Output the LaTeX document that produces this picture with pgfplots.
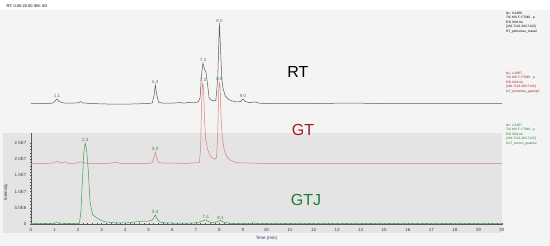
\documentclass[border=0pt]{standalone}
\usepackage{fontspec}
\setmainfont{Liberation Sans}
\usepackage{pgfplots}
\pgfplotsset{compat=1.18}
\definecolor{bgout}{HTML}{F4F4F4}
\definecolor{bgbox}{HTML}{E4E4E4}
\definecolor{rtline}{HTML}{5A5A5A}
\definecolor{gtline}{HTML}{E07B7B}
\definecolor{gtjline}{HTML}{3E9E50}
\definecolor{gtdark}{HTML}{A5171C}
\definecolor{gtjdark}{HTML}{1E7A34}
\definecolor{pklab}{HTML}{2E8B45}
\definecolor{ticklab}{HTML}{3A3A6A}
\begin{document}
\begin{tikzpicture}[x=1pt,y=1pt]
\useasboundingbox (0,0) rectangle (550,246);
\fill[bgout] (0,0) rectangle (550,246);
\fill[white] (0,236) rectangle (550,246);
\fill[bgbox] (3,13) rectangle (502,113);
\node[anchor=west, font=\fontsize{4}{5}\selectfont] at (3,240) {RT: 0.00-20.00 SM: 5G};

\begin{axis}[
  at={(31pt,22pt)}, anchor=origin,
  scale only axis, width=471pt, height=91pt,
  xmin=0, xmax=20, ymin=0, ymax=2.81,
  clip=false,
  axis x line=bottom, axis y line=left,
  axis line style={-, draw=gray!70!black, line width=0.4pt},
  xtick={0,...,20},
  ytick={0,0.5,...,2.5},
  yticklabels={0,5.0E6,1.0E7,1.5E7,2.0E7,2.5E7},
  minor x tick num=4, minor y tick num=4,
  tick style={draw=gray!70!black, line width=0.3pt},
  major tick length=2pt, minor tick length=1pt,
  tick label style={font=\fontsize{4.5}{5}\selectfont, text=ticklab},
  /pgf/number format/assume math mode=true,
  xlabel={Time (min)}, ylabel={Intensity},
  label style={font=\fontsize{4.5}{5}\selectfont, text=ticklab},
  xlabel style={at={(axis description cs:0.5,0)}, anchor=north, yshift=-9pt},
  ylabel style={at={(axis description cs:-0.053,0.35)}, anchor=center},
]
% RT (offset trace)
\addplot[rtline, line width=0.5pt] coordinates {
(0,3.72) (0.5,3.72) (0.9,3.73) (1.0,3.78) (1.1,3.86) (1.2,3.78) (1.35,3.74) (1.6,3.73)
(2.0,3.74) (2.1,3.78) (2.2,3.74) (2.5,3.72) (3.0,3.71) (3.5,3.70) (4.0,3.70) (4.5,3.71)
(5.0,3.72) (5.15,3.74) (5.22,3.95) (5.28,4.29) (5.34,3.98) (5.42,3.76) (5.6,3.73)
(6.0,3.73) (6.3,3.75) (6.5,3.73) (6.7,3.76) (6.9,3.74) (7.1,3.77) (7.18,3.9) (7.24,4.6)
(7.3,4.97) (7.36,4.8) (7.43,4.68) (7.5,4.3) (7.56,3.9) (7.65,3.82) (7.8,3.80) (7.85,3.82)
(7.93,4.5) (8.0,6.20) (8.06,5.2) (8.1,4.5) (8.15,4.2) (8.25,3.95) (8.4,3.84) (8.55,3.80)
(8.7,3.77) (8.9,3.78) (9.0,3.86) (9.1,3.78) (9.3,3.75) (9.5,3.77) (9.7,3.73) (10,3.72)
(11,3.72) (12,3.72) (13,3.73) (14,3.73) (15,3.72) (16,3.72) (17,3.72) (18,3.72) (19,3.72) (20,3.72)
};
% GT (offset trace)
\addplot[gtline, line width=0.5pt] coordinates {
(0,1.87) (0.5,1.87) (0.9,1.88) (1.1,1.93) (1.3,1.88) (1.45,1.92) (1.6,1.87) (1.9,1.88)
(2.1,1.92) (2.3,1.88) (2.6,1.87) (3.0,1.86) (3.4,1.88) (3.6,1.91) (3.8,1.87) (4.2,1.86)
(4.6,1.87) (5.0,1.87) (5.15,1.90) (5.22,2.05) (5.28,2.22) (5.34,2.05) (5.42,1.90) (5.6,1.88)
(6.0,1.88) (6.5,1.87) (6.8,1.88) (7.0,1.89) (7.15,1.90) (7.2,2.3) (7.24,3.6) (7.28,4.3)
(7.3,4.35) (7.33,4.1) (7.37,3.2) (7.42,2.6) (7.5,2.3) (7.6,2.12) (7.7,2.04) (7.8,2.0)
(7.88,2.05) (7.93,2.8) (7.97,4.1) (8.0,4.38) (8.03,4.2) (8.07,3.3) (8.12,2.7) (8.2,2.3)
(8.3,2.1) (8.45,1.98) (8.6,1.92) (8.8,1.89) (9.0,1.89) (9.3,1.88) (10,1.87) (12,1.87)
(14,1.87) (16,1.87) (18,1.87) (20,1.87)
};
% GTJ
\addplot[gtjline, line width=0.5pt] coordinates {
(0,0.01) (0.8,0.01) (1.0,0.03) (1.1,0.045) (1.2,0.03) (1.5,0.015) (2.0,0.01) (2.06,0.03)
(2.12,0.4) (2.18,1.3) (2.24,2.2) (2.30,2.50) (2.36,2.3) (2.43,1.67) (2.51,0.65) (2.62,0.28)
(2.79,0.19) (3.0,0.10) (3.21,0.06) (3.5,0.04) (3.78,0.03) (4.2,0.04) (4.5,0.07) (4.8,0.09)
(5.0,0.09) (5.15,0.12) (5.22,0.2) (5.28,0.28) (5.34,0.18) (5.45,0.07) (5.6,0.04) (6.0,0.03)
(6.5,0.025) (6.9,0.03) (7.1,0.05) (7.3,0.10) (7.42,0.13) (7.55,0.07) (7.7,0.04) (7.9,0.07)
(8.05,0.11) (8.2,0.05) (8.5,0.02) (9.0,0.015) (9.35,0.02) (9.42,0.04) (9.5,0.015) (10,0.01)
(12,0.01) (14,0.01) (16,0.01) (18,0.01) (20,0.01)
};
\begin{scope}[every node/.style={font=\fontsize{4.5}{5}\selectfont, text=pklab, anchor=south, inner sep=0.6pt}]
\node at (axis cs:1.1,3.87) {1.1};
\node at (axis cs:5.28,4.30) {5.3};
\node at (axis cs:7.3,4.98) {7.3};
\node at (axis cs:8.0,6.21) {8.0};
\node at (axis cs:9.0,3.87) {9.0};
\node at (axis cs:5.28,2.23) {5.3};
\node at (axis cs:7.3,4.36) {7.3};
\node at (axis cs:8.0,4.39) {8.0};
\node at (axis cs:2.3,2.51) {2.3};
\node at (axis cs:5.28,0.29) {5.3};
\node at (axis cs:7.42,0.14) {7.4};
\node at (axis cs:8.05,0.12) {8.1};
\end{scope}
\end{axis}

\node[font=\fontsize{16}{18}\selectfont] at (298,174) {RT};
\node[font=\fontsize{16}{18}\selectfont, text=gtdark] at (303,116) {GT};
\node[font=\fontsize{16}{18}\selectfont, text=gtjdark] at (306,46) {GTJ};

\begin{scope}[every node/.style={anchor=north west, align=left, inner sep=0pt, font=\fontsize{3.2}{4.5}\selectfont}]
\node at (506,234) {NL: 6.64E6\\TIC MS F: FTMS - p\\ESI SIM ms\\{[282.7122-283.7122]}\\RT\_pomelosu\_mass2};
\node[text=gtdark] at (506,174) {NL: 1.20E7\\TIC MS F: FTMS - p\\ESI SIM ms\\{[282.7122-283.7122]}\\GT\_pomelosu\_gsamp2};
\node[text=gtjdark] at (506,122) {NL: 2.54E7\\TIC MS F: FTMS - p\\ESI SIM ms\\{[282.7122-283.7122]}\\GJT\_suomo\_gsamp2};
\end{scope}
\end{tikzpicture}
\end{document}
